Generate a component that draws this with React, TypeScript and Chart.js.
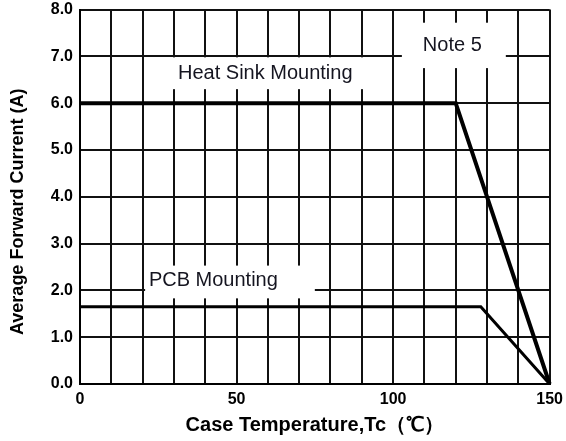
import React, { useEffect, useRef } from "react";
import { Chart, registerables } from "chart.js";

Chart.register(...registerables);

const heatSinkX = [0, 120, 150];
const heatSinkY = [6.0, 6.0, 0.0];
const pcbX = [0, 128, 150];
const pcbY = [1.65, 1.65, 0.0];

const xTitle = "Case Temperature,Tc（℃）";
const yTitle = "Average Forward Current (A)";
const xMajorLabels = [0, 50, 100, 150];

// annotation labels: text, box in data coordinates [x0, x1, y0, y1], text anchor [x, y]
const noteTexts = ["Heat Sink Mounting", "PCB Mounting", "Note 5"];
const noteBoxes = [
  [20.5, 99.5, 6.3, 6.98],
  [20.8, 75, 1.83, 2.53],
  [102.8, 136, 6.75, 7.72],
];
const noteAnchors = [
  [31.3, 6.63],
  [22.0, 2.21],
  [109.5, 7.23],
];

const FONT = "'Liberation Sans', Arial, sans-serif";

const notesPlugin = {
  id: "notes",
  beforeDatasetsDraw(chart: any) {
    const { ctx, scales } = chart;
    const xs = scales.x;
    const ys = scales.y;
    ctx.save();
    noteTexts.forEach((t, i) => {
      const b = noteBoxes[i];
      const x0 = xs.getPixelForValue(b[0]);
      const x1 = xs.getPixelForValue(b[1]);
      const y0 = ys.getPixelForValue(b[3]);
      const y1 = ys.getPixelForValue(b[2]);
      ctx.fillStyle = "#ffffff";
      ctx.fillRect(x0, y0, x1 - x0, y1 - y0);
      ctx.fillStyle = "#151520";
      ctx.font = `20px ${FONT}`;
      ctx.textBaseline = "middle";
      ctx.textAlign = "left";
      ctx.fillText(t, xs.getPixelForValue(noteAnchors[i][0]), ys.getPixelForValue(noteAnchors[i][1]));
    });
    ctx.restore();
  },
};

export default function App() {
  const ref = useRef<HTMLCanvasElement | null>(null);
  useEffect(() => {
    document.body.style.margin = "0";
    const chart = new Chart(ref.current as HTMLCanvasElement, {
      type: "scatter",
      data: {
        datasets: [
          {
            data: heatSinkX.map((x, i) => ({ x, y: heatSinkY[i] })),
            showLine: true,
            borderColor: "#000",
            borderWidth: 4,
            pointRadius: 0,
            clip: false,
          } as any,
          {
            data: pcbX.map((x, i) => ({ x, y: pcbY[i] })),
            showLine: true,
            borderColor: "#000",
            borderWidth: 3,
            pointRadius: 0,
            clip: false,
          } as any,
        ],
      },
      options: {
        animation: false,
        responsive: false,
        layout: { padding: { top: 0, right: 14, left: 0, bottom: 0 } },
        plugins: { legend: { display: false }, tooltip: { enabled: false } },
        scales: {
          x: {
            type: "linear",
            min: 0,
            max: 150,
            afterFit: (s: any) => {
              s.height = 57;
            },
            border: { color: "#000", width: 2 },
            grid: { color: "#111", lineWidth: 2, drawTicks: false },
            ticks: {
              stepSize: 10,
              padding: 6,
              color: "#000",
              font: { family: FONT, size: 16, weight: "bold" },
              maxRotation: 0,
              autoSkip: false,
              callback: (v: any) => (xMajorLabels.includes(Number(v)) ? String(v) : ""),
            },
            title: {
              display: true,
              text: xTitle,
              color: "#000",
              font: { family: FONT, size: 20, weight: "bold" },
              padding: { top: 4, bottom: 4 },
            },
          },
          y: {
            type: "linear",
            min: 0,
            max: 8,
            afterFit: (s: any) => {
              s.width = 80;
            },
            border: { color: "#000", width: 2 },
            grid: { color: "#111", lineWidth: 2, drawTicks: false },
            ticks: {
              stepSize: 1,
              padding: 7,
              color: "#000",
              font: { family: FONT, size: 16, weight: "bold" },
              callback: (v: any) => Number(v).toFixed(1),
            },
            title: {
              display: true,
              text: yTitle + "      ",
              color: "#000",
              font: { family: FONT, size: 18, weight: "bold" },
              padding: { top: 7, bottom: 10 },
            },
          },
        },
      },
      plugins: [notesPlugin],
    } as any);
    return () => chart.destroy();
  }, []);
  return (
    <div style={{ width: 566, height: 441, background: "#fff", overflow: "hidden", position: "relative" }}>
      <canvas
        ref={ref}
        width={569}
        height={448}
        style={{ display: "block", position: "absolute", left: 0, top: -7 }}
      />
    </div>
  );
}
